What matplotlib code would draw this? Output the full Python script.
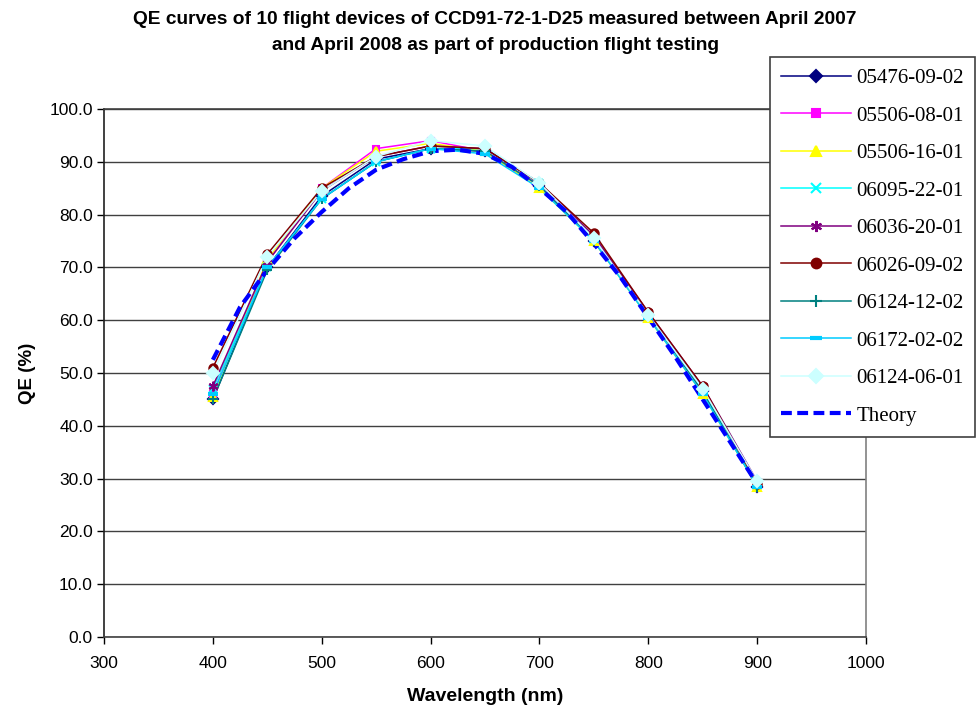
import matplotlib
matplotlib.use('Agg')
import matplotlib.pyplot as plt

# wavelengths of the measured points (nm)
wavelength = [400, 450, 500, 550, 600, 650, 700, 750, 800, 850, 900]

qe_05476_09_02 = [45.0, 70.0, 83.5, 90.5, 92.5, 92.0, 85.5, 75.0, 61.0, 46.5, 28.5]
qe_05506_08_01 = [46.0, 71.0, 85.0, 92.5, 94.0, 92.0, 85.5, 75.5, 61.0, 47.0, 29.0]
qe_05506_16_01 = [45.5, 71.5, 85.0, 92.0, 93.5, 92.0, 85.0, 75.0, 60.5, 46.0, 28.5]
qe_06095_22_01 = [47.0, 70.0, 83.0, 90.0, 92.5, 92.5, 86.0, 75.5, 61.0, 47.0, 29.0]
qe_06036_20_01 = [47.5, 71.0, 84.5, 91.0, 93.0, 92.5, 86.0, 76.0, 61.5, 47.5, 29.5]
qe_06026_09_02 = [51.0, 72.5, 85.0, 91.0, 93.0, 92.5, 86.0, 76.5, 61.5, 47.5, 29.0]
qe_06124_12_02 = [45.0, 69.5, 83.0, 90.0, 92.5, 92.0, 85.5, 75.0, 61.0, 46.5, 28.5]
qe_06172_02_02 = [46.0, 70.0, 83.0, 90.0, 92.5, 91.5, 85.0, 75.0, 60.5, 46.0, 28.5]
qe_06124_06_01 = [50.0, 72.0, 84.5, 91.0, 94.0, 93.0, 86.0, 75.5, 61.0, 47.0, 29.5]

theory_wl = [400, 425, 450, 475, 500, 525, 550, 575, 600, 625, 650, 675,
             700, 725, 750, 775, 800, 825, 850, 875, 900]
theory_qe = [52.5, 62.5, 69.5, 75.5, 80.5, 85.0, 88.5, 90.5, 92.0, 92.3, 91.5, 89.0,
             85.0, 80.5, 74.5, 68.0, 60.5, 53.0, 45.0, 37.0, 29.0]

series = [
    ('05476-09-02', qe_05476_09_02, '#000080', 'D', 5, 1.5),
    ('05506-08-01', qe_05506_08_01, '#FF00FF', 's', 5, 1.5),
    ('05506-16-01', qe_05506_16_01, '#FFFF00', '^', 6, 1.5),
    ('06095-22-01', qe_06095_22_01, '#00FFFF', 'x', 6, 1.5),
    ('06036-20-01', qe_06036_20_01, '#800080', (6, 2, 0), 7, 1.5),
    ('06026-09-02', qe_06026_09_02, '#800000', 'o', 6, 1.5),
    ('06124-12-02', qe_06124_12_02, '#008080', '+', 7, 1.5),
    ('06172-02-02', qe_06172_02_02, '#00CCFF', '_', 7, 3.0),
    ('06124-06-01', qe_06124_06_01, '#CCFFFF', 'D', 6, 1.5),
]

fig = plt.figure(figsize=(9.8, 7.15), dpi=100)
ax = fig.add_axes([104/980, 1 - 637/715, (866 - 104)/980, (637 - 109)/715])

handles = []
for name, vals, col, mk, ms, mw in series:
    ax.plot(wavelength, vals, color=col, lw=1.1, zorder=2)
    ax.plot(wavelength, vals, color=col, marker=mk, ms=ms, mew=mw, ls='none', zorder=4)
    h, = ax.plot([], [], color=col, lw=1.1, marker=mk, ms=ms + 1, mew=mw, label=name)
    handles.append(h)

th, = ax.plot(theory_wl, theory_qe, color='#0000FF', lw=3, ls=(0, (2.6, 1.3)), zorder=3, label='Theory')
handles.append(th)

ax.set_xlim(300, 1000)
ax.set_ylim(0, 100)
ax.set_xticks(range(300, 1001, 100))
ax.set_yticks(range(0, 101, 10))
ax.set_yticklabels(['%.1f' % v for v in range(0, 101, 10)])
ax.tick_params(direction='out', length=5, width=1, labelsize=12.5, colors='black')
for lab in ax.get_xticklabels() + ax.get_yticklabels():
    lab.set_fontfamily('Liberation Sans')
ax.tick_params(axis='x', pad=9)
ax.tick_params(axis='y', pad=3)
ax.yaxis.grid(True, color='#404040', lw=1)
ax.set_axisbelow(True)
ax.spines['left'].set_color('#202020')
ax.spines['bottom'].set_color('#404040')
ax.spines['right'].set_color('#808080')
ax.spines['top'].set_color('#404040')
for s in ax.spines.values():
    s.set_linewidth(1.2)

ax.set_xlabel('Wavelength (nm)', fontsize=14, fontweight='bold', family='Liberation Sans', labelpad=12)
ax.set_ylabel('QE (%)', fontsize=13.5, fontweight='bold', family='Liberation Sans', labelpad=10)

fig.text(495/980, 1 - 20/715, 'QE curves of 10 flight devices of CCD91-72-1-D25 measured between April 2007',
         ha='center', va='center', fontsize=13.8, fontweight='bold', family='Liberation Sans')
fig.text(495/980, 1 - 45/715, 'and April 2008 as part of production flight testing',
         ha='center', va='center', fontsize=13.8, fontweight='bold', family='Liberation Sans')

leg = fig.legend(handles=handles, loc='upper left', bbox_to_anchor=(770/980, 1 - 57/715),
                 borderaxespad=0, frameon=True, fancybox=False, framealpha=1,
                 prop={'family': 'Liberation Serif', 'size': 15},
                 handlelength=3.35, handletextpad=0.25, labelspacing=0.86,
                 borderpad=0.55)
leg.get_frame().set_edgecolor('#404040')
leg.get_frame().set_linewidth(1.2)

fig.savefig('out.png', dpi=100)
